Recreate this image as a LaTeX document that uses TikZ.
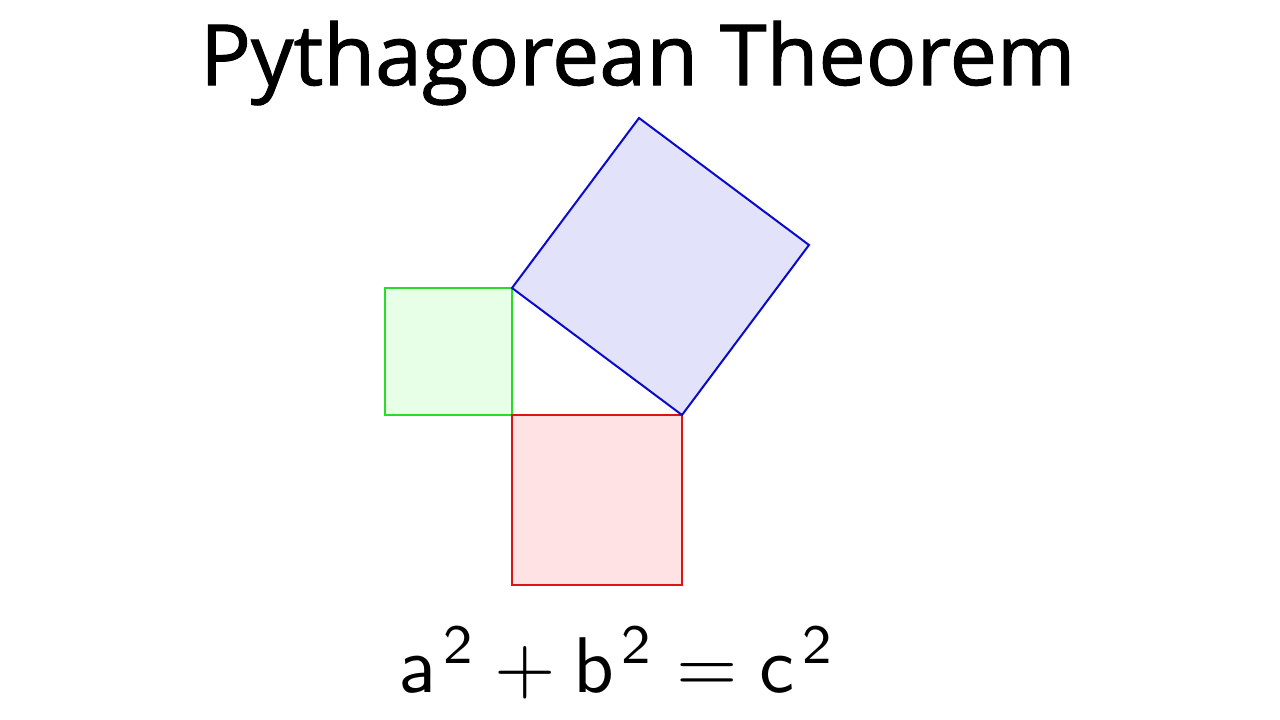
\documentclass[tikz,border=0pt]{standalone}
\usepackage{fontspec}
\newfontfamily\titlefont[FakeBold=1.2]{Open Sans}
\usepackage{graphicx}
\definecolor{sqgreen}{RGB}{40,220,40}
\definecolor{sqgreenfill}{RGB}{230,255,230}
\definecolor{sqred}{RGB}{220,20,20}
\definecolor{sqredfill}{RGB}{255,226,228}
\definecolor{sqblue}{RGB}{10,10,200}
\definecolor{sqbluefill}{RGB}{226,226,250}
\newcommand{\sqtwo}{\mkern2mu\mathsf{2}}
\begin{document}
\begin{tikzpicture}[x=1pt,y=-1pt,
  sqline/.style={line width=2pt,line join=miter}]
\useasboundingbox (0,0) rectangle (1280,720);
\fill[white] (0,0) rectangle (1280,720);
% triangle vertices
\coordinate (R) at (512,415);
\coordinate (A) at (512,288);
\coordinate (B) at (682,415);
% squares
\draw[sqline,draw=sqgreen,fill=sqgreenfill] (385,288) rectangle (512,415);
\draw[sqline,draw=sqred,fill=sqredfill] (512,415) rectangle (682,585);
\draw[sqline,draw=sqblue,fill=sqbluefill] (A) -- (B) -- (809,245) -- (639,118) -- cycle;
% title
\node[anchor=base west,inner sep=0pt] (title) at (200,85)
  {\resizebox{875pt}{64pt}{\titlefont Pythagorean Theorem}};
% equation
\node[anchor=base west,inner sep=0pt] (eq) at (398,692)
  {\resizebox{437pt}{!}{$\mathsf{a}^{\sqtwo}+\mathsf{b}^{\sqtwo}=\mathsf{c}^{\sqtwo}$}};
\end{tikzpicture}
\end{document}
